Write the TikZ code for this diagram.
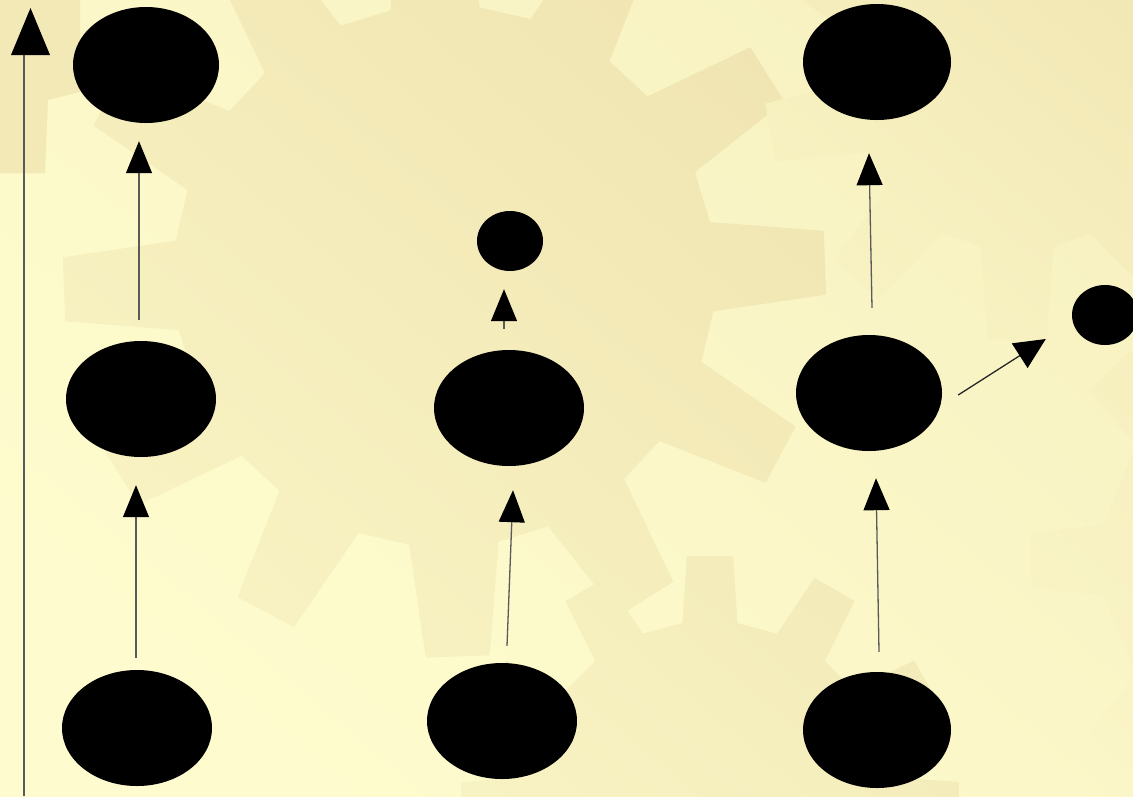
\documentclass[tikz,border=0pt]{standalone}
\usetikzlibrary{arrows.meta,calc,shapes.geometric}
\definecolor{bglight}{RGB}{254,252,206}
\definecolor{bgdark}{RGB}{248,242,194}
\definecolor{gearlight}{RGB}{248,242,194}
\definecolor{geardark}{RGB}{240,229,178}
\definecolor{fgearlight}{RGB}{250,245,198}
\definecolor{fgeardark}{RGB}{243,235,185}
\definecolor{linec}{RGB}{90,90,90}
\newcommand{\gearshape}[9]{%
  \shade[#9,shift={(#1,#2)}] ({#6-#7}:#4)
  \foreach \k in {1,...,#3}{
    -- ({#6+(\k-1)*360/#3-#7}:#4)
    -- ({#6+(\k-1)*360/#3-#8}:#5)
    -- ({#6+(\k-1)*360/#3+#8}:#5)
    -- ({#6+(\k-1)*360/#3+#7}:#4)
  } -- cycle;}
\begin{document}
\begin{tikzpicture}[x=1pt,y=-1pt,
  blob/.style 2 args={ellipse,fill=black,draw=none,inner sep=0pt,minimum width=#1,minimum height=#2},
  conn/.style={draw=linec,line width=1.3pt,-{Triangle[length=32pt,width=26pt,color=black]}},
  axisline/.style={draw=linec,line width=1.3pt},
  gearfill/.style={top color=geardark,bottom color=gearlight,shading angle=-40},
  faintgear/.style={top color=fgeardark,bottom color=fgearlight,shading angle=-40}]
\path[use as bounding box] (0,0) rectangle (1133,796);
\begin{scope}
  \clip (0,0) rectangle (1133,796);
  \shade[top color=bgdark,bottom color=bglight,shading angle=-40] (0,0) rectangle (1133,796);
  \fill[geardark!70!bgdark] (0,0) -- (0,173) -- (45,173) -- (48,100) -- (80,92) -- (80,0) -- cycle;
  \gearshape{710}{805}{12}{184}{250}{-90}{8.6}{5.3}{faintgear}
  \gearshape{1300}{560}{8}{200}{270}{0}{10}{6}{faintgear}
  \gearshape{444.5}{276}{12}{271}{382}{-2}{9.5}{4.8}{gearfill}
  \gearshape{1017}{89}{9}{162}{252}{90}{13}{6.7}{gearfill}
\end{scope}
% nodes
\node[blob={146pt}{116pt}] (A1) at (146,65) {};
\node[blob={150pt}{116pt}] (A2) at (141,399) {};
\node[blob={150pt}{116pt}] (A3) at (137,728) {};
\node[blob={66pt}{60pt}]   (B1) at (510,241) {};
\node[blob={150pt}{116pt}] (B2) at (509,408) {};
\node[blob={150pt}{116pt}] (B3) at (502,721) {};
\node[blob={148pt}{116pt}] (C1) at (877,62) {};
\node[blob={146pt}{116pt}] (C2) at (869,393) {};
\node[blob={148pt}{116pt}] (C3) at (877,730) {};
\node[blob={66pt}{60pt}]   (D)  at (1105,315) {};
% connectors
\draw[conn] ($(A3.north)+(-1,-12)$) -- ($(A2.south)+(-5,28)$);
\draw[conn] ($(A2.north)+(-2,-21)$) -- ($(A1.south)+(-7,18)$);
\draw[conn] ($(B3.north)+(5,-17)$) -- ($(B2.south)+(4,24)$);
\draw[conn] ($(B2.north)+(-5,-21)$) -- ($(B1.south)+(-6,18)$);
\draw[conn] ($(C3.north)+(2,-20)$) -- ($(C2.south)+(7,27)$);
\draw[conn] ($(C2.north)+(3,-27)$) -- ($(C1.south)+(-8,33)$);
\draw[conn,draw=black!85,-{Triangle[length=31pt,width=29pt,color=black]}] ($(C2.east)+(16,2)$) -- ($(D.west)+(-26,24)$);
% axis
\coordinate (axb) at (24,796);
\coordinate (axt) at (24,55);
\draw[axisline] (axb) -- (axt);
\fill[black] (11,55) -- (50,55) -- (30.5,8) -- cycle;
\end{tikzpicture}
\end{document}
